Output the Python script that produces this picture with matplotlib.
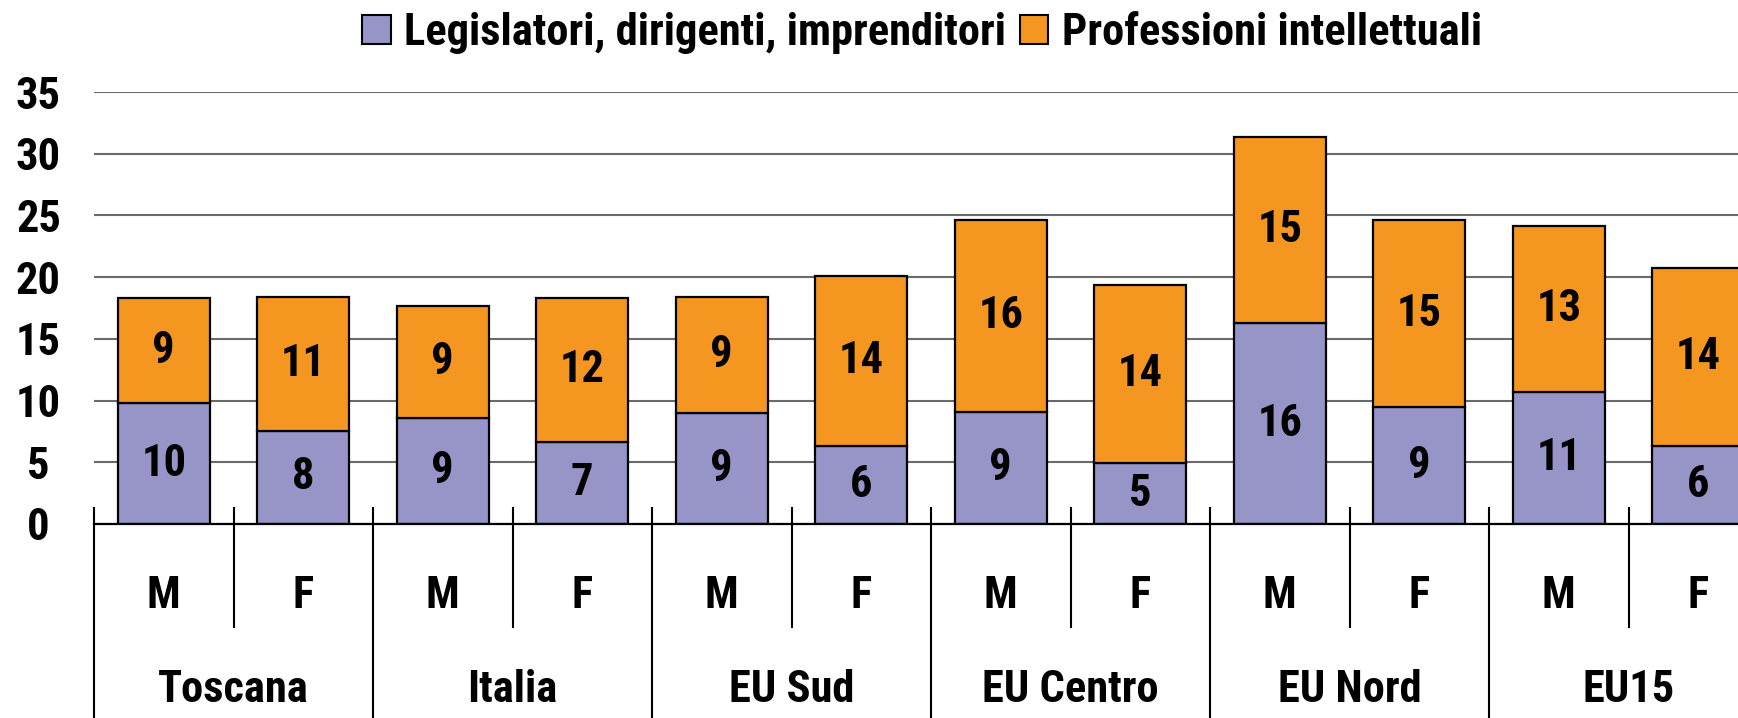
import matplotlib
matplotlib.use("Agg")
import matplotlib.pyplot as plt
from matplotlib.patches import Patch
import matplotlib.transforms as mtransforms

groups = ['Toscana', 'Italia', 'EU Sud', 'EU Centro', 'EU Nord', 'EU15']
sexes = ['M', 'F']
legislatori = [9.78, 7.54, 8.62, 6.64, 8.98, 6.28, 9.07, 4.93, 16.26, 9.44, 10.68, 6.30]
professioni = [8.53, 10.86, 9.06, 11.67, 9.42, 13.83, 15.53, 14.40, 15.07, 15.18, 13.49, 14.43]
series_names = ['Legislatori, dirigenti, imprenditori', 'Professioni intellettuali']
yticks = [0, 5, 10, 15, 20, 25, 30, 35]

FONT = ['Roboto Condensed', 'DejaVu Sans']
plt.rcParams['font.family'] = FONT
plt.rcParams['font.weight'] = 'bold'
FS = 32

col_leg = '#9794c8'
col_pro = '#f4961f'

W, H = 1738, 718
fig = plt.figure(figsize=(W / 100, H / 100), dpi=100)
left_px, right_px, top_px, zero_px = 94, 1738, 92, 524
ax = fig.add_axes([left_px / W, (H - zero_px) / H, (right_px - left_px) / W, (zero_px - top_px) / H])

n = len(legislatori)
x = list(range(n))
bw = 0.66
ax.bar(x, legislatori, width=bw, color=col_leg, edgecolor='black', linewidth=1.6, zorder=3)
ax.bar(x, professioni, width=bw, bottom=legislatori, color=col_pro, edgecolor='black', linewidth=1.6, zorder=3)

for i in range(n):
    a, b = legislatori[i], professioni[i]
    ax.text(i, a / 2, f"{a:.0f}", ha='center', va='center', fontsize=FS, fontweight='bold', zorder=4)
    ax.text(i, a + b / 2, f"{b:.0f}", ha='center', va='center', fontsize=FS, fontweight='bold', zorder=4)

slot_right = -0.5 + (right_px - left_px) / 139.5
ax.set_xlim(-0.5, slot_right)
ax.set_ylim(0, 35)
ax.set_yticks(yticks)
ax.set_yticklabels([str(t) for t in yticks], fontsize=FS, fontweight='bold')
for lbl in ax.get_yticklabels():
    lbl.set_ha('center')
ax.tick_params(axis='y', length=0, pad=40)
ax.set_xticks([])
for s in ['left', 'right', 'top']:
    ax.spines[s].set_visible(False)
ax.spines['bottom'].set_color('black')
ax.spines['bottom'].set_linewidth(1.6)
ax.spines['bottom'].set_zorder(5)
ax.yaxis.grid(True, color='#6a6a6a', linewidth=1.5, zorder=0)
ax.set_axisbelow(True)

# multi-level category axis
trans = mtransforms.blended_transform_factory(ax.transData, ax.transAxes)
ph = zero_px - top_px
def yf(p):
    return (zero_px - p) / ph

for i in range(n + 1):
    xb = i - 0.5
    if i % 2 == 0:
        ax.plot([xb, xb], [yf(508), -0.6], color='black', linewidth=1.5, transform=trans, clip_on=False)
    else:
        ax.plot([xb, xb], [yf(508), yf(627)], color='black', linewidth=1.5, transform=trans, clip_on=False)

for i in range(n):
    ax.text(i, yf(596), sexes[i % 2], transform=trans, ha='center', va='center', fontsize=FS, fontweight='bold')
for g, name in enumerate(groups):
    ax.text(2 * g + 0.5, yf(690), name, transform=trans, ha='center', va='center', fontsize=FS, fontweight='bold')

handles = [Patch(facecolor=col_leg, edgecolor='black', linewidth=1.5),
           Patch(facecolor=col_pro, edgecolor='black', linewidth=1.5)]
fig.legend(handles, series_names, loc='center', bbox_to_anchor=(922 / W, 1 - 33 / H), ncol=2, frameon=False,
           fontsize=FS, handlelength=0.65, handleheight=0.65, handletextpad=0.3, columnspacing=0.3,
           borderpad=0, borderaxespad=0)

fig.savefig('out.png', dpi=100)
